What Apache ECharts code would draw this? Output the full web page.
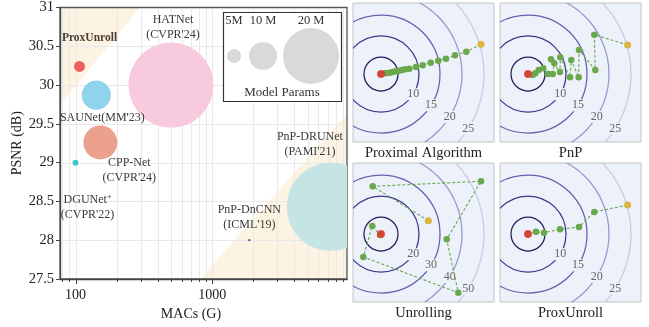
<!DOCTYPE html>
<html><head><meta charset="utf-8">
<script src="https://cdn.jsdelivr.net/npm/echarts@6/dist/echarts.min.js"></script>
<style>html,body{margin:0;padding:0;background:#fff}#c{width:649px;height:327px}</style>
</head><body><div id="c"></div>
<script>
const FONT = 'Liberation Serif';
// ---- bubble chart data ----
const models = ['ProxUnroll', 'SAUNet', 'HATNet', 'CPP-Net', 'DGUNet+', 'PnP-DnCNN', 'PnP-DRUNet'];
const modelLabels = ['ProxUnroll', "SAUNet(MM'23)", "HATNet\n(CVPR'24)", "CPP-Net\n(CVPR'24)", "DGUNet{sup|+}\n(CVPR'22)", "PnP-DnCNN\n(ICML'19)", "PnP-DRUNet\n(PAMI'21)"];
const macs = [107, 142, 500, 152, 100, 1870, 7400];
const psnr = [30.24, 29.87, 30.0, 29.26, 29.0, 28.0, 28.43];
const paramsM = [3.9, 10.4, 30.4, 12.1, 2.1, 0.8, 31.6];
const legendParams = [5, 10, 20];
const legendLabels = ['5M', '10 M', '20 M'];
const xMinorTicks = [80, 90, 200, 300, 400, 500, 600, 700, 800, 900, 2000, 3000, 4000, 5000, 6000, 7000, 8000, 9000];
const xMajorTicks = [100, 1000];
const yTicks = [27.5, 28, 28.5, 29, 29.5, 30, 30.5, 31];
const shadeUpper = [[77, 31], [296, 31], [77, 29.74]];
const shadeLower = [[815, 27.5], [9700, 27.5], [9700, 29.63]];
// ---- panel data (units: relative to optimum) ----
const panelTitles = ['Proximal Algorithm', 'PnP', 'Unrolling', 'ProxUnroll'];
const contourLevelsA = [5, 10, 15, 20, 25];
const contourLevelsB = [10, 20, 30, 40, 50];
const contourRadii = [17, 38, 59, 81, 103];
const pathProximal = [[100, 29.7], [85.3, 22.3], [74, 18.7], [65, 15.3], [57.3, 13.3], [49.7, 11.3], [41.7, 8.7], [35, 7], [28.3, 5.3], [24.3, 4.7], [21, 4], [17.7, 3.3], [14.7, 2.7], [11.7, 2], [9, 1.3], [6.3, 1], [4, 0.7], [0, 0]];
const pathPnP = [[99.7, 29], [66.3, 39.3], [67.3, 4], [51, 24], [50.7, -3.3], [43.3, 14], [42, -3.3], [32.3, 16.7], [32, 2], [23, 14.7], [26.3, 10.7], [24.7, 0], [20, 0], [15.3, 5.7], [10.7, 4], [7.3, 0.7], [4.7, -1], [0, 0]];
const pathUnrolling = [[47.3, 13.3], [-8.3, 47.7], [100, 52.7], [65.7, -5.3], [77.3, -58.7], [-17.7, -23], [-8.7, 8], [-1, -1], [0, 0]];
const pathProxUnroll = [[99.7, 29], [66.3, 22], [51, 7], [32, 4.7], [16, 1.3], [8, 2.3], [0, 0]];

// ---- styles / layout ----
const bubbleColors = ['#ef5f5b', '#8fd3ec', '#f7cadd', '#eba18d', '#3fc3c6', '#7b3b78', '#c5e4e4'];
const labelOffsets = [[10, -28], [6, 23], [2, -58], [29, 28], [12, 45], [0, -23], [-21, -63]];
const sizePerM = 2.8;
const legendX = [11, 40, 88];
const contourColors = ['#221c5a', '#3e368c', '#6660ac', '#9a95cb', '#cbc8e4'];
const panelBg = '#ecf1fa';
const green = '#6aa84c';

const chart = echarts.init(document.getElementById('c'), null, {renderer: 'canvas'});
const panelGrids = [[353, 3], [500, 3], [353, 163], [500, 163]];
const grids = [
  {left: 60, top: 6, width: 287, height: 273, show: true, borderColor: '#555', borderWidth: 1.3},
  {left: 223, top: 12, width: 118, height: 89}
].concat(panelGrids.map(p => ({left: p[0], top: p[1], width: 141, height: 139, show: true, backgroundColor: panelBg, borderColor: '#c4c4c4', borderWidth: 1})));

const xAxes = [
  {gridIndex: 0, type: 'log', logBase: 10, min: 77, max: 9700,
   axisLine: {show: true, lineStyle: {color: '#444', width: 1.3}}, axisTick: {show: false}, splitLine: {show: false},
   axisLabel: {fontFamily: FONT, fontSize: 14, color: '#222', margin: 9, showMinLabel: false, showMaxLabel: false, formatter: v => String(Math.round(v))},
   name: 'MACs (G)', nameLocation: 'middle', nameGap: 26, nameTextStyle: {fontFamily: FONT, fontSize: 14, color: '#222', padding: [0, 25, 0, 0]}},
  {gridIndex: 1, type: 'value', min: 0, max: 118, show: false}
].concat(panelGrids.map((p, i) => ({gridIndex: i + 2, type: 'value', min: -28, max: 113, show: false})));
const yAxes = [
  {gridIndex: 0, type: 'value', min: 27.5, max: 31, interval: 0.5,
   axisLine: {show: true, lineStyle: {color: '#444', width: 1.3}}, axisTick: {show: true, length: 4, lineStyle: {color: '#444'}}, splitLine: {show: false},
   axisLabel: {fontFamily: FONT, fontSize: 14.5, color: '#222', margin: 6},
   name: 'PSNR (dB)', nameLocation: 'middle', nameGap: 35, nameTextStyle: {fontFamily: FONT, fontSize: 14, color: '#222'}},
  {gridIndex: 1, type: 'value', min: 0, max: 89, show: false}
].concat(panelGrids.map((p, i) => ({gridIndex: i + 2, type: 'value', min: -68, max: 71, show: false})));

const series = [];
// beige shaded regions
const shades = [shadeUpper, shadeLower];
series.push({type: 'custom', xAxisIndex: 0, yAxisIndex: 0, z: -1, silent: true, clip: true,
  data: shades.map((s, i) => [s[0][0], s[0][1], i]),
  renderItem: (p, api) => ({type: 'polygon', shape: {points: shades[p.dataIndex].map(pt => api.coord(pt))}, style: {fill: '#fcf3e2'}})});
// vertical grid lines + x ticks
const xGridData = xMajorTicks.map(v => [v, yTicks[0], 1]).concat(xMinorTicks.map(v => [v, yTicks[0], 0]));
series.push({type: 'custom', xAxisIndex: 0, yAxisIndex: 0, z: 1, silent: true,
  data: xGridData,
  renderItem: (p, api) => {
    const v = api.value(0); const a = api.coord([v, yTicks[0]]); const b = api.coord([v, yTicks[yTicks.length - 1]]);
    const x = Math.round(a[0]) + 0.5; const major = api.value(2) === 1;
    return {type: 'group', children: [
      {type: 'line', shape: {x1: x, y1: a[1] - 1, x2: x, y2: b[1] + 1}, style: {stroke: '#e9e9e9', lineWidth: 1}},
      {type: 'line', shape: {x1: x, y1: a[1], x2: x, y2: a[1] + (major ? 5 : 3)}, style: {stroke: '#444', lineWidth: 1}}
    ]};
  }});
// horizontal grid lines
series.push({type: 'custom', xAxisIndex: 0, yAxisIndex: 0, z: 1, silent: true,
  data: yTicks.slice(1, -1).map(v => [77, v]),
  renderItem: (p, api) => {
    const v = api.value(1); const a = api.coord([77, v]); const b = api.coord([9700, v]);
    const y = Math.round(a[1]) + 0.5;
    return {type: 'line', shape: {x1: a[0] + 1, y1: y, x2: b[0] - 1, y2: y}, style: {stroke: '#e9e9e9', lineWidth: 1}};
  }});
// bubbles
series.push({type: 'custom', xAxisIndex: 0, yAxisIndex: 0, z: 3, clip: true,
  data: models.map((m, i) => ({name: m, value: [macs[i], psnr[i], paramsM[i]]})),
  renderItem: (p, api) => {
    const c = api.coord([api.value(0), api.value(1)]);
    return {type: 'circle', shape: {cx: c[0], cy: c[1], r: api.value(2) * sizePerM / 2}, style: {fill: bubbleColors[p.dataIndex]}};
  }});
// bubble labels
series.push({type: 'custom', xAxisIndex: 0, yAxisIndex: 0, z: 4, silent: true,
  data: models.map((m, i) => [macs[i], psnr[i]]),
  renderItem: (p, api) => {
    const c = api.coord([api.value(0), api.value(1)]); const o = labelOffsets[p.dataIndex];
    const bold = p.dataIndex === 0;
    return {type: 'text', x: c[0] + o[0], y: c[1] + o[1], style: {
      text: modelLabels[p.dataIndex], fill: bold ? '#4a3d31' : '#3a3a3a', fontFamily: FONT, fontSize: bold ? 11.5 : 12,
      fontWeight: bold ? 'bold' : 'normal', align: 'center', verticalAlign: 'middle', lineHeight: 15,
      rich: {sup: {fontSize: 8, fontFamily: FONT, fill: '#3a3a3a', padding: [0, 0, 7, 0]}}}};
  }});
// legend box
series.push({type: 'custom', xAxisIndex: 1, yAxisIndex: 1, z: 5, silent: true,
  data: [[59, 8]],
  renderItem: (p, api) => {
    const cs = p.coordSys; const t = api.coord([api.value(0), api.value(1)]);
    return {type: 'group', children: [
      {type: 'rect', shape: {x: Math.round(cs.x) + 0.5, y: Math.round(cs.y) + 0.5, width: cs.width, height: cs.height}, style: {fill: '#fff', stroke: '#333', lineWidth: 1.2}},
      {type: 'text', x: t[0], y: t[1], style: {text: 'Model Params', fill: '#333', fontFamily: FONT, fontSize: 13, align: 'center', verticalAlign: 'middle'}}
    ]};
  }});
series.push({type: 'custom', xAxisIndex: 1, yAxisIndex: 1, z: 6, silent: true,
  data: legendParams.map((v, i) => [legendX[i], 45, v]),
  renderItem: (p, api) => {
    const c = api.coord([api.value(0), api.value(1)]); const t = api.coord([api.value(0), 80]);
    return {type: 'group', children: [
      {type: 'circle', shape: {cx: c[0], cy: c[1], r: api.value(2) * sizePerM / 2}, style: {fill: '#d9d9d9'}},
      {type: 'text', x: t[0], y: t[1], style: {text: legendLabels[p.dataIndex], fill: '#333', fontFamily: FONT, fontSize: 12.5, align: 'center', verticalAlign: 'middle'}}
    ]};
  }});

// panels
const paths = [pathProximal, pathPnP, pathUnrolling, pathProxUnroll];
const levelSets = [contourLevelsA, contourLevelsA, contourLevelsB, contourLevelsA];
const labelAng = 32 * Math.PI / 180;
paths.forEach((path, k) => {
  const ax = k + 2;
  const levels = levelSets[k];
  series.push({type: 'custom', xAxisIndex: ax, yAxisIndex: ax, z: 2, clip: true, silent: true,
    data: contourRadii.map((r, i) => [0, 0, r, levels[i]]),
    renderItem: (p, api) => {
      const c = api.coord([0, 0]); const r = api.size([api.value(2), 0])[0];
      const kids = [{type: 'circle', shape: {cx: c[0], cy: c[1], r: r}, style: {fill: 'none', stroke: contourColors[p.dataIndex], lineWidth: 1.25}}];
      if (p.dataIndex > 0) {
        kids.push({type: 'text', x: c[0] + r * Math.cos(labelAng), y: c[1] + r * Math.sin(labelAng), style: {
          text: String(levels[p.dataIndex]), fill: '#666', fontFamily: FONT, fontSize: 12, align: 'center', verticalAlign: 'middle',
          backgroundColor: panelBg, padding: [0, 1]}});
      }
      return {type: 'group', children: kids};
    }});
  series.push({type: 'line', xAxisIndex: ax, yAxisIndex: ax, z: 3, data: path, showAllSymbol: true, symbol: 'circle', symbolSize: 6.5,
    itemStyle: {color: green}, lineStyle: {color: green, width: 1.1, type: [3, 2]}, animation: false, silent: true});
  series.push({type: 'scatter', xAxisIndex: ax, yAxisIndex: ax, z: 4, silent: true, animation: false,
    data: [{value: path[0], itemStyle: {color: '#f6b83f'}, symbolSize: 7}, {value: path[path.length - 1], itemStyle: {color: '#e8302b'}, symbolSize: 8}]});
});

const titleX = [423.5, 570.5, 423.5, 570.5];
const titleY = [146, 146, 306, 306];
chart.setOption({
  animation: false,
  title: panelTitles.map((t, i) => ({text: t, left: titleX[i], top: titleY[i], textAlign: 'center', padding: 0,
    textStyle: {fontFamily: FONT, fontSize: 14.5, fontWeight: 'normal', color: '#222'}})),
  grid: grids, xAxis: xAxes, yAxis: yAxes, series: series
});
</script></body></html>
